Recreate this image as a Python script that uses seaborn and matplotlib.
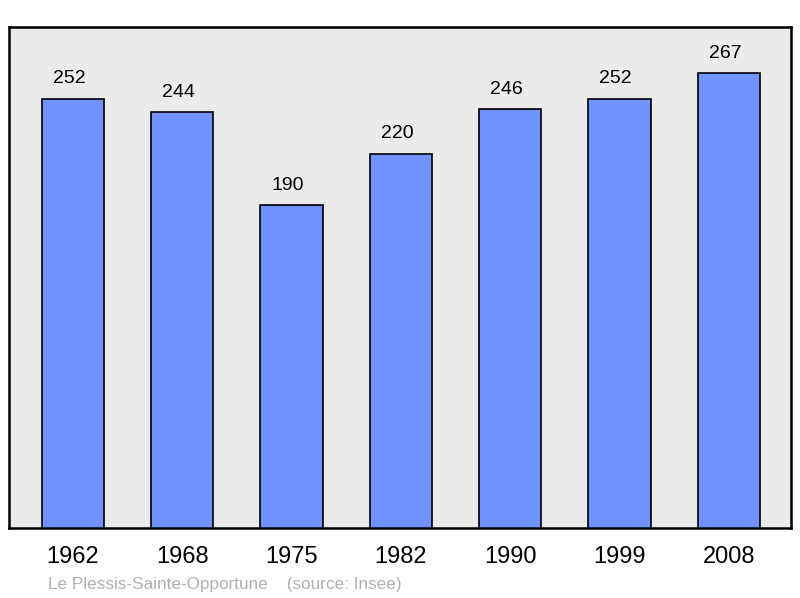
import matplotlib
matplotlib.use("Agg")
import matplotlib.pyplot as plt
import seaborn as sns
import pandas as pd

years = ["1962", "1968", "1975", "1982", "1990", "1999", "2008"]
population = [252, 244, 190, 220, 246, 252, 267]
footer = "Le Plessis-Sainte-Opportune    (source: Insee)"

sns.set_style("white")
plt.rcParams['font.family'] = ['Liberation Sans', 'DejaVu Sans']

df = pd.DataFrame({"year": years, "pop": population})

fig = plt.figure(figsize=(8, 5.98), dpi=100)
ax = fig.add_axes([9/800, 70/598, 782/800, 501/598])
ax.set_facecolor("#ebebeb")

sns.barplot(data=df, x="year", y="pop", ax=ax, color="#7093ff",
            saturation=1, width=0.57, edgecolor="black", linewidth=1.2)

for i, v in enumerate(population):
    ax.annotate(str(v), xy=(i, v), xytext=(-2.8, 8.2), textcoords="offset points",
                ha="center", va="bottom", fontsize=14, color="black")

ax.set_xlim(-0.585, 6.57)
ax.set_ylim(1.6, 293.8)
ax.set_xlabel("")
ax.set_ylabel("")
ax.set_yticks([])
ax.tick_params(axis="x", length=0, labelsize=17, pad=13, labelcolor="black")
for s in ax.spines.values():
    s.set_visible(True)
    s.set_color("black")
    s.set_linewidth(1.8)

fig.text(48/800, 1 - 584/598, footer, ha="left", va="center", fontsize=12.3, color="#b0b0b0")

fig.savefig("out.png", dpi=100)
